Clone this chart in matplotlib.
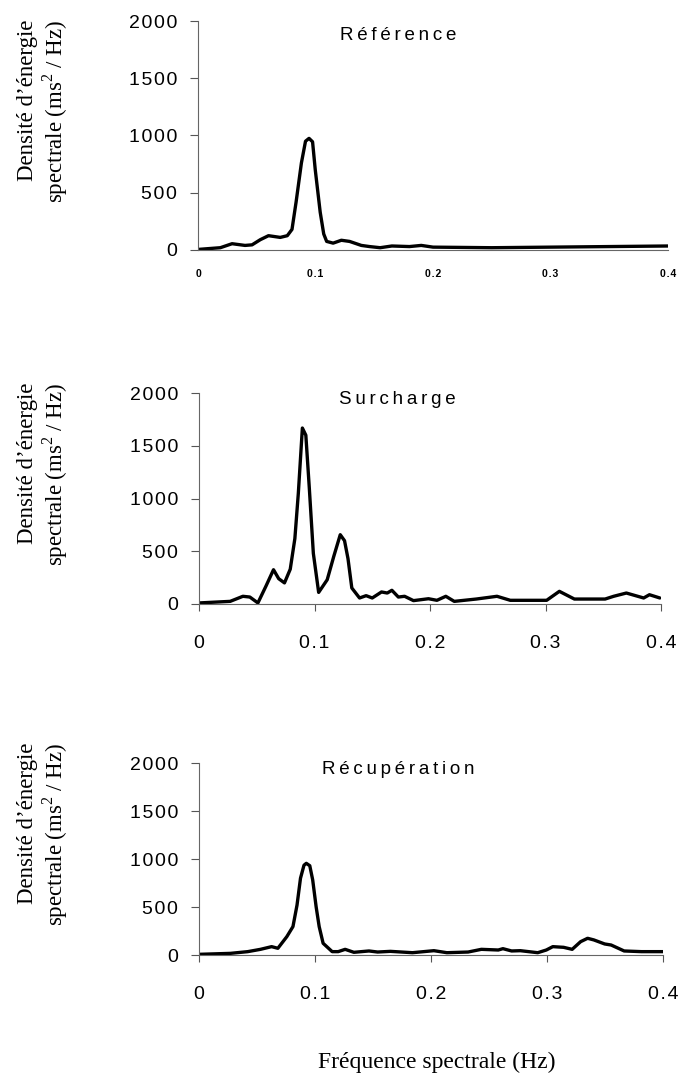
import matplotlib
matplotlib.use('Agg')
import matplotlib.pyplot as plt

plt.rcParams['font.family'] = ['Liberation Sans', 'DejaVu Sans']
plt.rcParams['mathtext.fontset'] = 'custom'
plt.rcParams['mathtext.rm'] = 'Liberation Serif'

# spectral power density (Hz, ms^2/Hz)
ref_freq = [0.0, 0.019, 0.029, 0.040, 0.046, 0.053, 0.060, 0.070, 0.076, 0.080, 0.0835,
            0.088, 0.0915, 0.0945, 0.0975, 0.0998, 0.104, 0.107, 0.1095, 0.115, 0.122,
            0.129, 0.139, 0.146, 0.155, 0.165, 0.180, 0.190, 0.200, 0.250, 0.300, 0.350,
            0.400]
ref_psd = [5, 20, 55, 40, 45, 90, 125, 110, 125, 180, 420,
           760, 950, 975, 945, 700, 330, 140, 75, 60, 85,
           75, 40, 30, 20, 35, 30, 40, 25, 20, 25, 30,
           35]

sur_freq = [0.0, 0.027, 0.038, 0.044, 0.051, 0.058, 0.0645, 0.069, 0.074, 0.079, 0.083,
            0.086, 0.0895, 0.0925, 0.0955, 0.099, 0.1036, 0.111, 0.1167, 0.1223, 0.126,
            0.129, 0.1323, 0.139, 0.1447, 0.150, 0.158, 0.163, 0.167, 0.1726, 0.178,
            0.1857, 0.1987, 0.206, 0.2137, 0.221, 0.240, 0.258, 0.2695, 0.301, 0.312,
            0.325, 0.3516, 0.359, 0.370, 0.385, 0.390, 0.399]
sur_psd = [10, 25, 73, 66, 10, 170, 325, 240, 200, 330, 620,
           1050, 1668, 1600, 1100, 480, 110, 230, 452, 657, 600,
           430, 152, 57, 79, 57, 114, 104, 130, 66, 73,
           32, 50, 35, 73, 25, 47, 73, 35, 35, 120,
           47, 47, 73, 104, 57, 88, 57]

rec_freq = [0.0, 0.027, 0.042, 0.053, 0.0626, 0.068, 0.0757, 0.081, 0.0845, 0.0875, 0.0905,
            0.0925, 0.0955, 0.098, 0.101, 0.1036, 0.107, 0.1148, 0.120, 0.126, 0.1335,
            0.1465, 0.154, 0.165, 0.184, 0.2025, 0.2137, 0.232, 0.2434, 0.258, 0.262,
            0.2695, 0.277, 0.292, 0.2994, 0.305, 0.3143, 0.3217, 0.329, 0.335, 0.3404,
            0.3497, 0.3553, 0.3665, 0.3814, 0.400]
rec_psd = [7, 17, 35, 59, 87, 70, 191, 296, 520, 800, 935,
           955, 930, 783, 500, 296, 122, 35, 35, 59, 28,
           42, 31, 38, 24, 45, 24, 31, 59, 52, 66,
           42, 45, 24, 52, 87, 80, 59, 139, 174, 157,
           115, 104, 42, 35, 35]

titles = ['Référence', 'Surcharge', 'Récupération']
y_ticks = [0, 500, 1000, 1500, 2000]
x_ticks = [0, 0.1, 0.2, 0.3, 0.4]
x_labels = ['0', '0.1', '0.2', '0.3', '0.4']


def spaced(s, sep='\u200a'):
    return sep.join(s)


W, H = 678, 1078
fig = plt.figure(figsize=(W / 100, H / 100), dpi=100)

# pixel boxes of each panel: left, right, top(2000), bottom(0)
boxes = [(198, 668, 21, 250), (199, 661, 393, 604), (199, 663, 763, 955)]
series = [(ref_freq, ref_psd), (sur_freq, sur_psd), (rec_freq, rec_psd)]
title_pos = [(0.425, 1870), (0.43, 1937), (0.43, 1930)]
label_top = [20, 383, 743]
serif = ['Liberation Serif', 'DejaVu Serif']

for i, (l, r, t, b) in enumerate(boxes):
    ax = fig.add_axes([l / W, 1 - b / H, (r - l) / W, (b - t) / H])
    f, p = series[i]
    ax.plot(f, p, color='black', lw=2.4, solid_joinstyle='round', solid_capstyle='round')
    ax.set_xlim(0, 0.4)
    ax.set_ylim(0, 2000)
    for s in ['top', 'right']:
        ax.spines[s].set_visible(False)
    for s in ['left', 'bottom']:
        ax.spines[s].set_color('#666666')
        ax.spines[s].set_linewidth(0.8)
    ax.set_yticks(y_ticks)
    ax.set_yticklabels([spaced(str(v)) for v in y_ticks], fontsize=14)
    ax.tick_params(axis='y', direction='out', length=6, width=0.8, color='#555555', pad=9)
    ax.set_xticks(x_ticks)
    if i == 0:
        ax.set_xticklabels([spaced(s) for s in x_labels], fontsize=7.5, fontweight='bold')
        ax.tick_params(axis='x', length=0, pad=14)
    else:
        ax.set_xticklabels([spaced(s) for s in x_labels], fontsize=14)
        ax.tick_params(axis='x', direction='out', length=5, width=0.8, color='#555555', pad=17)
    ax.text(title_pos[i][0], title_pos[i][1], spaced(titles[i], '\u2009'),
            transform=ax.get_yaxis_transform(), ha='center', va='center', fontsize=13.5)
    yt = 1 - label_top[i] / H
    fig.text(28 / W, yt, 'Densité d’énergie', rotation=90, ha='center', va='top',
             fontsize=16.5, family=serif)
    fig.text(55 / W, yt, 'spectrale (ms$^{2}$ / Hz)', rotation=90, ha='center', va='top',
             fontsize=16.5, family=serif)

fig.text(437 / W, 1 - 1062 / H, 'Fréquence spectrale (Hz)', ha='center', va='center',
         fontsize=17, family=serif)

fig.savefig('out.png', dpi=100)
